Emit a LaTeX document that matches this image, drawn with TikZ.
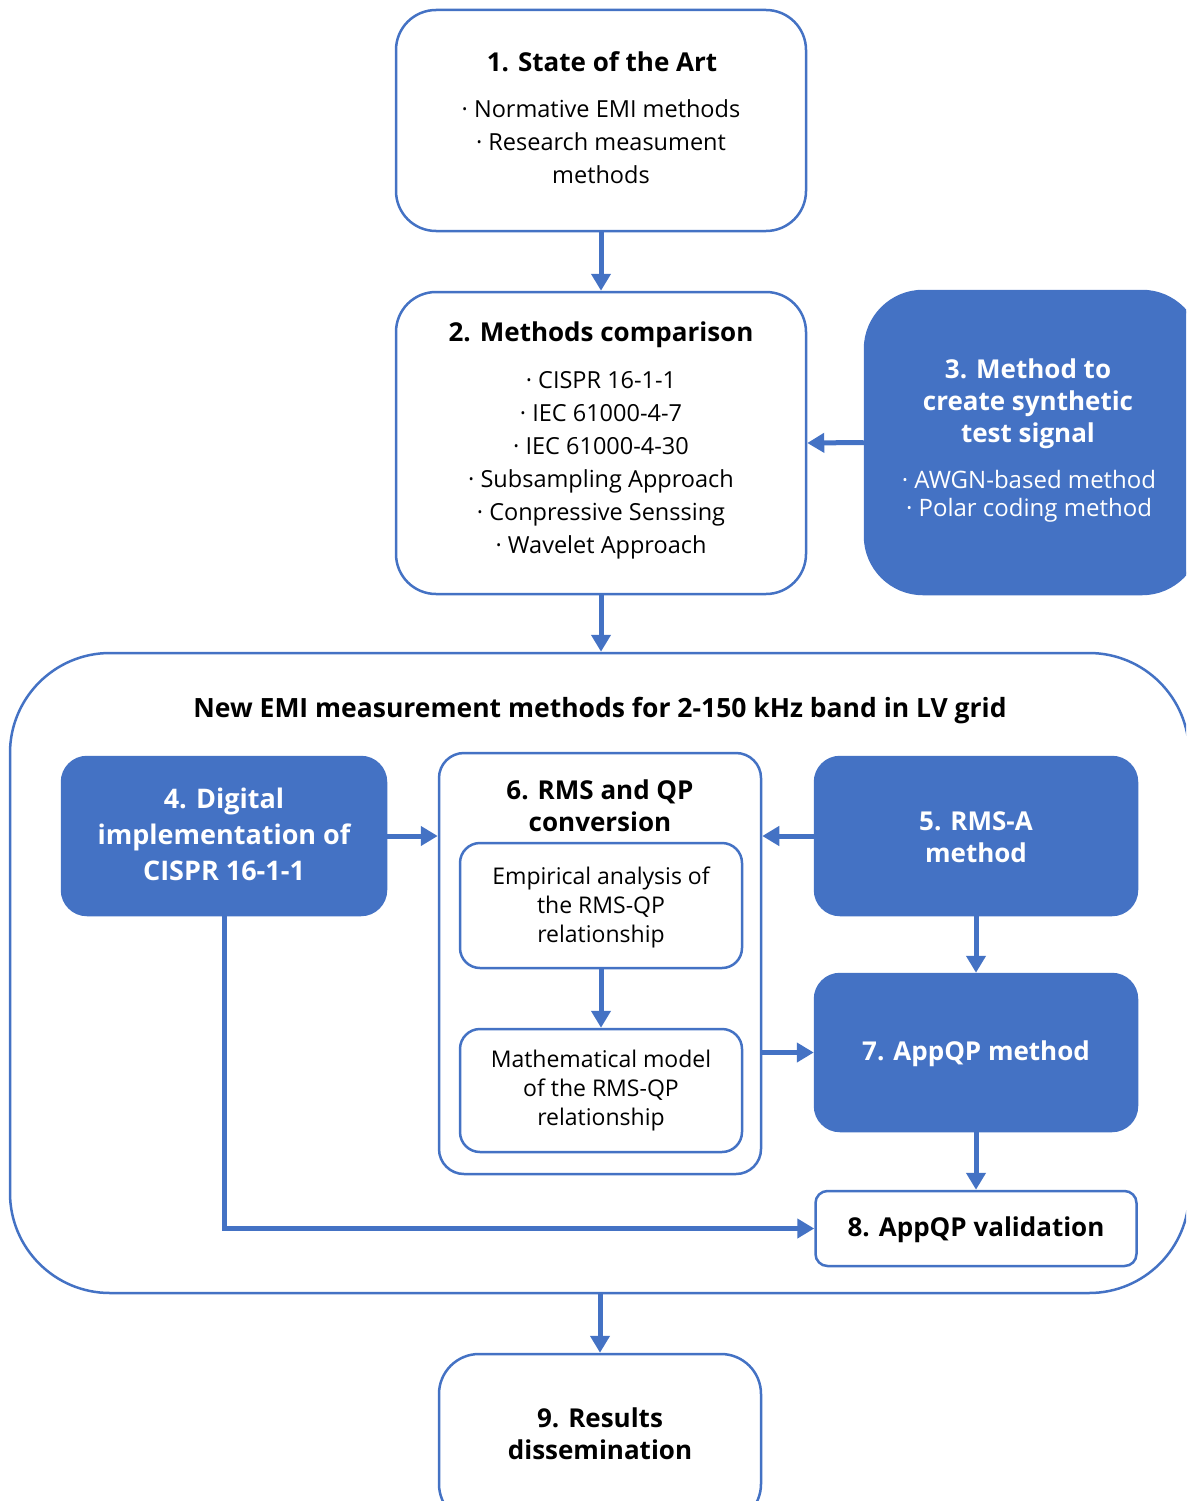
\documentclass[tikz,border=0pt]{standalone}
\usepackage{fontspec}
\setmainfont{Open Sans}
\usetikzlibrary{arrows.meta}
\definecolor{emiblue}{HTML}{4472C4}
\tikzset{
  box/.style={draw=emiblue, line width=2.5pt, inner sep=0pt},
  whitebox/.style={box, fill=white},
  bluebox/.style={box, fill=emiblue},
  flow/.style={draw=emiblue, line width=5pt,
    -{Triangle[length=17pt,width=19pt]}},
  ttl/.style={font=\fontsize{26}{32}\selectfont\bfseries, align=center},
  ttlw/.style={ttl, text=white},
  bdy/.style={font=\fontsize{23.5}{33}\selectfont, align=center},
  bdyw/.style={font=\fontsize{24}{28}\selectfont, align=center, text=white},
  inner/.style={font=\fontsize{23}{29}\selectfont, align=center},
}
\begin{document}
\begin{tikzpicture}[x=1pt, y=-1pt]
\useasboundingbox (0,0) rectangle (1186,1501);
\clip (0,0) rectangle (1186,1501);

% outer frame for the new measurement methods
\node[whitebox, rounded corners=100pt, minimum width=1179pt, minimum height=640pt]
  (cont) at (599.5,973) {};
\node[ttl, font=\fontsize{26.5}{32}\selectfont\bfseries] (conttitle) at (600,711)
  {New EMI measurement methods for 2-150 kHz band in LV grid};

% 1. state of the art
\node[whitebox, rounded corners=40pt, minimum width=410pt, minimum height=221pt]
  (b1) at (601,120.5) {};
\node[ttl] (t1) at (602,62) {1. State of the Art};
\node[bdy] (l1) at (601,142) {· Normative EMI methods\\· Research measument\\methods};

% 2. methods comparison
\node[whitebox, rounded corners=40pt, minimum width=410pt, minimum height=302pt]
  (b2) at (601,443) {};
\node[ttl] (t2) at (601,335) {2. Methods comparison};
\node[bdy] (l2) at (601,465) {· CISPR 16-1-1\\· IEC 61000-4-7\\· IEC 61000-4-30\\· Subsampling Approach\\· Conpressive Senssing\\· Wavelet Approach};

% 3. synthetic test signal
\node[bluebox, rounded corners=58pt, minimum width=335pt, minimum height=303pt]
  (b3) at (1032.5,442.5) {};
\node[ttlw] (t3) at (1028,404) {3. Method to\\create synthetic\\test signal};
\node[bdyw] (l3) at (1029,496) {· AWGN-based method\\· Polar coding method};

% 4. digital implementation
\node[bluebox, rounded corners=25pt, minimum width=324pt, minimum height=158pt]
  (b4) at (224,836) {};
\node[ttlw, font=\fontsize{27}{36}\selectfont\bfseries] (t4) at (224,834)
  {4. Digital\\implementation of\\CISPR 16-1-1};

% 6. RMS and QP conversion
\node[whitebox, rounded corners=25pt, minimum width=322pt, minimum height=421pt]
  (b6) at (600,963.5) {};
\node[ttl] (t6) at (600,806) {6. RMS and QP\\conversion};
\node[whitebox, rounded corners=20pt, minimum width=282pt, minimum height=125pt]
  (ia) at (601,905.5) {};
\node[inner] (ta) at (601,907) {Empirical analysis of\\the RMS-QP\\relationship};
\node[whitebox, rounded corners=20pt, minimum width=282pt, minimum height=123pt]
  (ib) at (601,1090.5) {};
\node[inner] (tb) at (601,1091) {Mathematical model\\of the RMS-QP\\relationship};

% 5. RMS-A method
\node[bluebox, rounded corners=25pt, minimum width=322pt, minimum height=158pt]
  (b5) at (976,836) {};
\node[ttlw] (t5) at (976,837) {5. RMS-A\\method};

% 7. AppQP method
\node[bluebox, rounded corners=25pt, minimum width=322pt, minimum height=157pt]
  (b7) at (976,1052.5) {};
\node[ttlw] (t7) at (976,1054) {7. AppQP method};

% 8. AppQP validation
\node[whitebox, rounded corners=12pt, minimum width=321pt, minimum height=75pt]
  (b8) at (976,1228.5) {};
\node[ttl] (t8) at (976,1230) {8. AppQP validation};

% 9. results dissemination
\node[whitebox, rounded corners=40pt, minimum width=322pt, minimum height=170pt]
  (b9) at (600,1439) {};
\node[ttl] (t9) at (600,1434) {9. Results\\dissemination};

% connectors
\draw[flow] (b1.south) -- (b2.north);
\draw[flow] (b3.west) -- (b2.east);
\draw[flow] (b2.south) -- (cont.north -| b2.south);
\draw[flow] (b4.east) -- (b4.east -| b6.west);
\draw[flow] (b5.west) -- (b5.west -| b6.east);
\draw[flow] (ia.south) -- (ib.north);
\draw[flow] (b5.south) -- (b7.north);
\draw[flow] (b7.west -| b6.east) -- (b7.west);
\draw[flow] (b7.south) -- (b8.north);
\draw[flow] (b4.south) |- (b8.west);
\draw[flow] (cont.south -| b9.north) -- (b9.north);
\end{tikzpicture}
\end{document}
